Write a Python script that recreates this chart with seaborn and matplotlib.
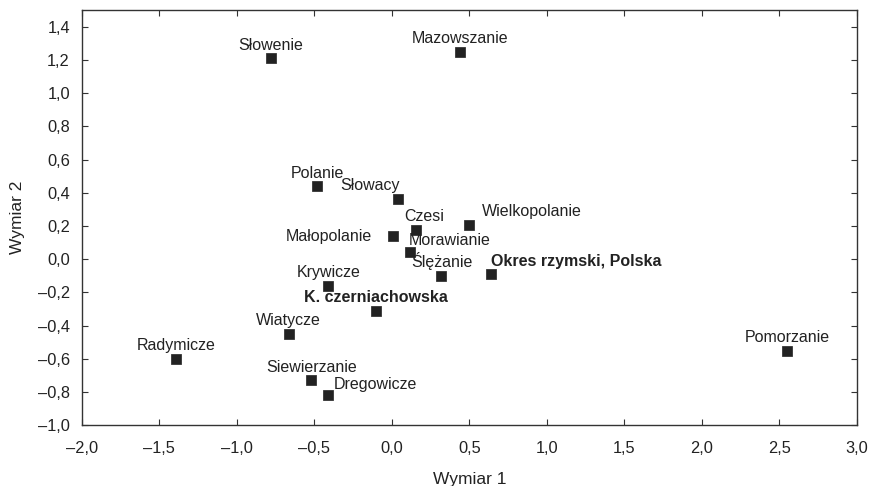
import seaborn as sns
import matplotlib.pyplot as plt
import matplotlib.ticker as ticker
import pandas as pd

# MDS coordinates
names = ['Słowenie', 'Mazowszanie', 'Polanie', 'Słowacy', 'Czesi', 'Wielkopolanie',
         'Małopolanie', 'Morawianie', 'Ślężanie', 'Okres rzymski, Polska', 'Krywicze',
         'K. czerniachowska', 'Wiatycze', 'Radymicze', 'Siewierzanie', 'Dregowicze',
         'Pomorzanie']
dim1 = [-0.78, 0.44, -0.48, 0.04, 0.155, 0.50, 0.006, 0.116, 0.32, 0.64, -0.41,
        -0.10, -0.665, -1.39, -0.52, -0.41, 2.55]
dim2 = [1.21, 1.25, 0.44, 0.36, 0.175, 0.205, 0.14, 0.043, -0.10, -0.09, -0.16,
        -0.31, -0.45, -0.60, -0.73, -0.82, -0.55]
bold = ['Okres rzymski, Polska', 'K. czerniachowska']

# label placement: (dx, dy) in points, horizontal alignment
label_pos = {
    'Słowacy': (-20, 5, 'center'),
    'Czesi': (6, 4.5, 'center'),
    'Wielkopolanie': (9, 4.5, 'left'),
    'Małopolanie': (-15, -5.5, 'right'),
    'Morawianie': (-1, 3, 'left'),
    'Okres rzymski, Polska': (0, 3.5, 'left'),
    'Dregowicze': (4, 2.5, 'left'),
}

df = pd.DataFrame({'name': names, 'x': dim1, 'y': dim2})

sns.set_style('ticks')
plt.rcParams['font.family'] = ['Liberation Sans', 'DejaVu Sans']

fig, ax = plt.subplots(figsize=(8.7, 4.86), dpi=100)
fig.subplots_adjust(left=0.094, right=0.985, bottom=0.125, top=0.979)

sns.scatterplot(data=df, x='x', y='y', marker='s', s=50, color='#222222',
                edgecolor='#222222', linewidth=0.5, ax=ax, zorder=3)

for n, xv, yv in zip(names, dim1, dim2):
    dx, dy, ha = label_pos.get(n, (0, 4, 'center'))
    ax.annotate(n, (xv, yv), xytext=(dx, dy), textcoords='offset points',
                ha=ha, va='bottom', fontsize=11.5, color='#222222',
                fontweight='bold' if n in bold else 'normal')

ax.set_xlim(-2.0, 3.0)
ax.set_ylim(-1.0, 1.5)
ax.xaxis.set_major_locator(ticker.MultipleLocator(0.5))
ax.yaxis.set_major_locator(ticker.FixedLocator([-1.0, -0.8, -0.6, -0.4, -0.2, 0.0,
                                                0.2, 0.4, 0.6, 0.8, 1.0, 1.2, 1.4]))
fmt = ticker.FuncFormatter(lambda v, p: f'{v:.1f}'.replace('.', ',').replace('-', '–')
                           if abs(v) > 1e-9 else '0,0')
ax.xaxis.set_major_formatter(fmt)
ax.yaxis.set_major_formatter(fmt)
ax.tick_params(direction='in', top=True, right=True, length=4, width=0.8,
               labelsize=11.8, colors='#333333', labelcolor='#222222')
ax.tick_params(axis='x', pad=11)
ax.tick_params(axis='y', pad=8.5)
for s in ax.spines.values():
    s.set_color('#333333')
    s.set_linewidth(1.0)

ax.set_xlabel('Wymiar 1', fontsize=12.5, color='#222222', labelpad=12)
ax.set_ylabel('Wymiar 2', fontsize=12.5, color='#222222', labelpad=9)

fig.savefig('out.png', dpi=100)
